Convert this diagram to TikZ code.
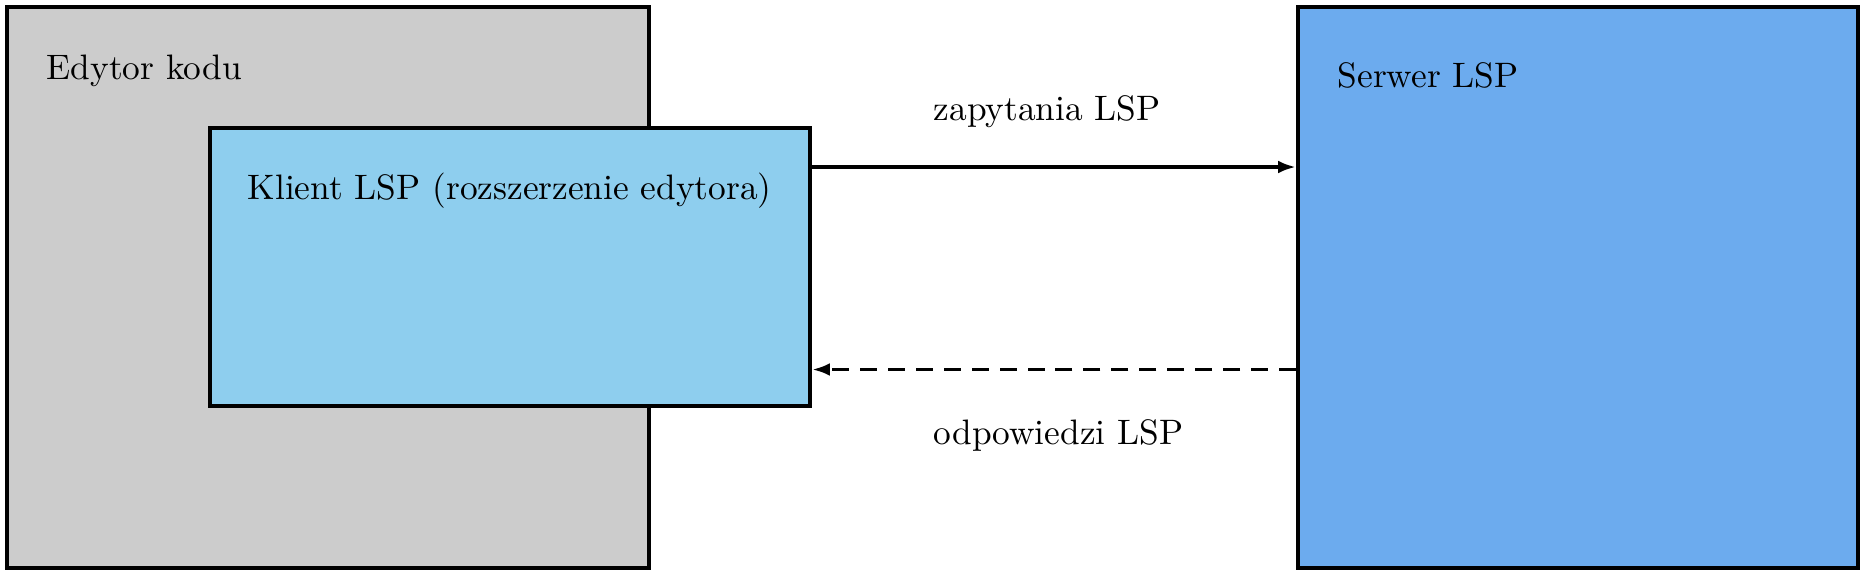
\documentclass[tikz,border=0pt]{standalone}
\usetikzlibrary{arrows.meta}
\definecolor{editorgray}{RGB}{204,204,204}
\definecolor{clientblue}{RGB}{142,206,238}
\definecolor{serverblue}{RGB}{108,171,238}
\begin{document}
\begin{tikzpicture}[x=0.2828pt,y=-0.2828pt,
  box/.style={draw=black,line width=1.15pt,rectangle,inner sep=0pt},
  lbl/.style={anchor=base west,inner sep=0pt,font=\fontsize{10pt}{12pt}\selectfont},
  conn/.style={line width=1pt,-{Latex[length=5pt,width=3.6pt]}}]
\useasboundingbox (0,0) rectangle (1868,575);
\node[box,fill=editorgray,minimum width=181.6pt,minimum height=158.7pt] (editor) at (328,287.5) {};
\node[box,fill=clientblue,minimum width=169.7pt,minimum height=78.6pt] (client) at (510,267) {};
\node[box,fill=serverblue,minimum width=158.4pt,minimum height=158.7pt] (server) at (1578,287.5) {};
\node[lbl] (editortext) at (46,79) {Edytor kodu};
\node[lbl] (clienttext) at (247,199) {Klient LSP (rozszerzenie edytora)};
\node[lbl] (servertext) at (1337,87) {Serwer LSP};
\node[lbl] (reqtext) at (933,120) {zapytania LSP};
\node[lbl] (resptext) at (933,444) {odpowiedzi LSP};
\coordinate (reqstart) at ([yshift=28.28pt]client.east);
\coordinate (respstart) at ([yshift=-23.19pt]server.west);
\draw[conn] (reqstart) -- (reqstart -| server.west);
\draw[conn,dash pattern=on 4.8pt off 3.1pt] (respstart) -- (respstart -| client.east);
\end{tikzpicture}
\end{document}
